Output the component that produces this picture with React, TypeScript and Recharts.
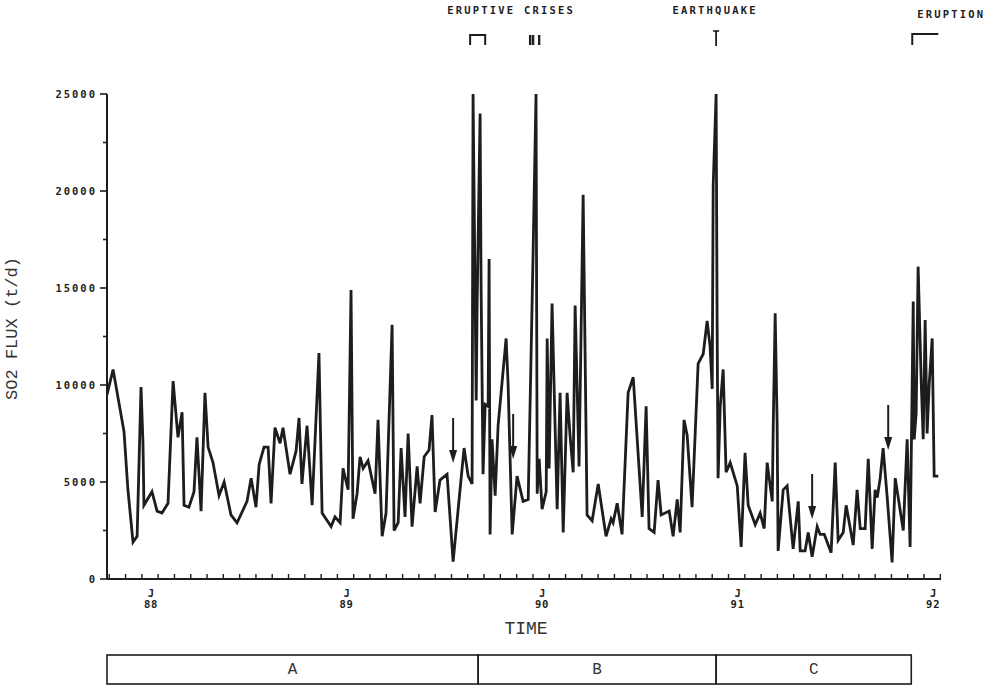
import React from "react";
import { ComposedChart, Line, XAxis, YAxis, ReferenceArea, ReferenceDot, Label } from "recharts";

// decimal year of each survey, and the SO2 flux measured then (t/d)
const dates = [
  1987.78, 1987.811, 1987.867, 1987.887, 1987.913, 1987.934, 1987.954, 1987.964, 1987.969,
  1988.01, 1988.036, 1988.061, 1988.092, 1988.118, 1988.143, 1988.164, 1988.174, 1988.199,
  1988.225, 1988.24, 1988.261, 1988.281, 1988.297, 1988.322, 1988.353, 1988.379, 1988.414,
  1988.445, 1988.496, 1988.517, 1988.542, 1988.558, 1988.583, 1988.604, 1988.619, 1988.639,
  1988.665, 1988.68, 1988.716, 1988.747, 1988.762, 1988.777, 1988.803, 1988.829, 1988.864,
  1988.88, 1988.926, 1988.946, 1988.972, 1988.987, 1989.013, 1989.028, 1989.038, 1989.059,
  1989.074, 1989.09, 1989.115, 1989.151, 1989.166, 1989.187, 1989.207, 1989.238, 1989.248,
  1989.269, 1989.284, 1989.304, 1989.32, 1989.34, 1989.366, 1989.381, 1989.402, 1989.427,
  1989.442, 1989.458, 1989.483, 1989.519, 1989.55, 1989.606, 1989.627, 1989.647, 1989.652,
  1989.668, 1989.673, 1989.688, 1989.693, 1989.703, 1989.714, 1989.729, 1989.734, 1989.739,
  1989.749, 1989.765, 1989.78, 1989.821, 1989.831, 1989.852, 1989.877, 1989.908, 1989.934,
  1989.959, 1989.974, 1989.98, 1989.99, 1990.005, 1990.026, 1990.031, 1990.041, 1990.056,
  1990.082, 1990.097, 1990.113, 1990.133, 1990.148, 1990.164, 1990.174, 1990.194, 1990.215,
  1990.235, 1990.261, 1990.292, 1990.332, 1990.358, 1990.368, 1990.389, 1990.414, 1990.445,
  1990.471, 1990.517, 1990.537, 1990.552, 1990.578, 1990.598, 1990.614, 1990.655, 1990.675,
  1990.696, 1990.711, 1990.731, 1990.747, 1990.772, 1990.803, 1990.829, 1990.849, 1990.864,
  1990.875, 1990.88, 1990.895, 1990.9, 1990.905, 1990.916, 1990.931, 1990.946, 1990.967,
  1991.003, 1991.023, 1991.043, 1991.059, 1991.095, 1991.12, 1991.141, 1991.156, 1991.182,
  1991.187, 1991.197, 1991.207, 1991.212, 1991.238, 1991.258, 1991.289, 1991.315, 1991.325,
  1991.35, 1991.366, 1991.386, 1991.412, 1991.427, 1991.448, 1991.483, 1991.504, 1991.519,
  1991.545, 1991.56, 1991.596, 1991.616, 1991.632, 1991.657, 1991.673, 1991.693, 1991.708,
  1991.719, 1991.734, 1991.749, 1991.77, 1991.795, 1991.811, 1991.852, 1991.872, 1991.887,
  1991.903, 1991.908, 1991.918, 1991.928, 1991.944, 1991.954, 1991.964, 1991.974, 1991.985,
  1992.0, 1992.01, 1992.031,
];

const flux = [
  9500, 10800, 7600, 4600, 1900, 2200, 9900, 7000, 3800,
  4500, 3500, 3400, 3900, 10200, 7300, 8600, 3800, 3700,
  4500, 7300, 3500, 9600, 6800, 6000, 4300, 5000, 3300,
  2900, 4000, 5200, 3700, 5900, 6800, 6800, 3900, 7800,
  7000, 7800, 5400, 6600, 8300, 4900, 7900, 3800, 11650,
  3400, 2700, 3200, 2900, 5700, 4600, 14900, 3100, 4400,
  6300, 5700, 6100, 4400, 8200, 2200, 3400, 13100, 2500,
  2900, 6750, 3200, 7500, 2700, 5800, 3900, 6300, 6650,
  8450, 3450, 5100, 5400, 900, 6750, 5300, 4900, 25000,
  9200, 14300, 24000, 15200, 5400, 9000, 8900, 16500, 2300,
  7200, 4300, 7900, 12400, 10100, 2300, 5300, 4000, 4100,
  16800, 25000, 4400, 6200, 3600, 4500, 12400, 5700, 14200,
  3600, 9600, 2400, 9600, 7400, 5500, 14100, 5800, 19800,
  3300, 3000, 4900, 2200, 3100, 2900, 3900, 2300, 9600,
  10400, 3200, 8900, 2600, 2400, 5100, 3300, 3500, 2200,
  4100, 2400, 8200, 7400, 3700, 11100, 11600, 13300, 12000,
  9800, 20300, 25000, 13300, 5200, 8900, 10800, 5500, 6000,
  4800, 1650, 6500, 3800, 2800, 3400, 2600, 6000, 4000,
  7800, 13700, 8000, 1450, 4600, 4800, 1550, 4000, 1450,
  1450, 2400, 1150, 2700, 2300, 2300, 1350, 6000, 2000,
  2400, 3800, 1750, 4600, 2600, 2600, 6200, 1550, 4600,
  4200, 5200, 6750, 4200, 850, 5200, 2500, 7200, 1650,
  14300, 7200, 8550, 16100, 10100, 7200, 13350, 7500, 10100,
  12400, 5300, 5300,
];

const fluxTicks = [0, 2500, 5000, 7500, 10000, 12500, 15000, 17500, 20000, 22500, 25000];
const yearLabels = ["88", "89", "90", "91", "92"];

// activity phases A, B, C and their limits
const phaseNames = ["A", "B", "C"];
const phaseBounds = [1987.78, 1989.678, 1990.895, 1991.893];

// events marked above the record
const crisisSpan = [1989.637, 1989.714];
const crisisMarks = [1989.944, 1989.959, 1989.99];
const quakeDate = 1990.895;
const eruptionSpan = [1991.898, 1992.031];

// arrows pointing at individual surveys
const arrowDates = [1989.55, 1989.857, 1991.386, 1991.775];
const arrowTips = [5980, 6190, 3090, 6650];

const series = dates.map((t, i) => ({ t, flux: flux[i] }));

const monthTicks: number[] = [];
for (let k = 9; k <= 60; k++) monthTicks.push(1987 + (k + 0.5) / 12);
const xTicks = [...monthTicks, 1988, 1989, 1990, 1991, 1992].sort((a, b) => a - b);

const ink = "#1d1d1d";
const plotFont = "'DejaVu Sans Mono', monospace";
const textFont = "'Liberation Mono', 'DejaVu Sans Mono', monospace";

const FluxTick = (props: any) => {
  const { x, y, payload } = props;
  const major = payload.value % 5000 === 0;
  return (
    <g>
      <line x1={x - (major ? 7 : 4)} x2={x} y1={y} y2={y} stroke={ink} strokeWidth={1.6} />
      {major && (
        <text x={x - 10} y={y} dy="0.36em" textAnchor="end" fontFamily={plotFont} fontWeight="bold"
          fontSize={10.5} letterSpacing={2} fill={ink}>
          {payload.value}
        </text>
      )}
    </g>
  );
};

const TimeTick = (props: any) => {
  const { x, y, payload } = props;
  const v = payload.value;
  if (Number.isInteger(v)) {
    return (
      <g fontFamily={plotFont} fontWeight="bold" fontSize={10.5} fill={ink} textAnchor="middle">
        <text x={x + 1} y={y + 18}>J</text>
        <text x={x + 1} y={y + 29} letterSpacing={0.8}>{yearLabels[v - 1988]}</text>
      </g>
    );
  }
  return <line x1={x} x2={x} y1={y} y2={y - 5} stroke={ink} strokeWidth={1.4} />;
};

const YTitle = (props: any) => {
  const vb = props.viewBox;
  const cx = 11;
  const cy = vb.y + vb.height / 2 - 8;
  return (
    <text x={cx} y={cy} transform={`rotate(-90 ${cx} ${cy})`} textAnchor="middle" dy="0.35em"
      fontFamily={textFont} fontSize={17} fill="#333">
      SO2 FLUX (t/d)
    </text>
  );
};

const XTitle = (props: any) => {
  const vb = props.viewBox;
  return (
    <text x={vb.x + vb.width / 2 + 2} y={vb.y + 55} textAnchor="middle" fontFamily={textFont}
      fontSize={18} fill="#333">
      TIME
    </text>
  );
};

const phaseBox = (name: string) => (p: any) => {
  const top = p.y + p.height + 76;
  return (
    <g>
      <rect x={p.x} y={top} width={p.width} height={29} fill="none" stroke={ink} strokeWidth={1.6} />
      <text x={p.x + p.width / 2} y={top + 19} textAnchor="middle" fontFamily={textFont} fontSize={16} fill="#333">
        {name}
      </text>
    </g>
  );
};

const eventText = (cx: number, y: number, label: string) => (
  <text x={cx} y={y} textAnchor="middle" fontFamily={plotFont} fontWeight="bold" fontSize={10.5}
    letterSpacing={2.2} fill={ink}>
    {label}
  </text>
);

const crisisBracket = (p: any) => {
  const top = p.y - 59;
  return (
    <g>
      <path d={`M${p.x},${top + 10} V${top} H${p.x + p.width} V${top + 10}`} fill="none" stroke={ink} strokeWidth={2} />
      {eventText(p.x + 41, 14, "ERUPTIVE CRISES")}
    </g>
  );
};

const crisisMark = (p: any) => (
  <line x1={p.cx} x2={p.cx} y1={p.cy - 59} y2={p.cy - 49} stroke={ink} strokeWidth={2.4} />
);

const quakeMark = (p: any) => (
  <g>
    <line x1={p.cx - 3} x2={p.cx + 3} y1={p.cy - 63} y2={p.cy - 63} stroke={ink} strokeWidth={1.6} />
    <line x1={p.cx} x2={p.cx} y1={p.cy - 63} y2={p.cy - 48} stroke={ink} strokeWidth={1.8} />
    {eventText(p.cx - 1, 14, "EARTHQUAKE")}
  </g>
);

const eruptionBracket = (p: any) => {
  const top = p.y - 60;
  return (
    <g>
      <path d={`M${p.x},${top + 11} V${top} H${p.x + p.width}`} fill="none" stroke={ink} strokeWidth={2} />
      {eventText(p.x + 39, 18, "ERUPTION")}
    </g>
  );
};

const arrowShape = (p: any) => (
  <g>
    <line x1={p.cx} x2={p.cx} y1={p.cy - 45} y2={p.cy - 10} stroke={ink} strokeWidth={2} />
    <path d={`M${p.cx - 4},${p.cy - 13} L${p.cx + 4},${p.cy - 13} L${p.cx},${p.cy} Z`} fill={ink} />
  </g>
);

export default function App() {
  return (
    <div style={{ position: "absolute", left: 0, top: 0, width: 992, height: 699, background: "#fff" }}>
      <ComposedChart width={992} height={699} margin={{ top: 94, right: 51, bottom: 90, left: 7 }}>
        <XAxis dataKey="t" type="number" domain={[1987.78, 1992.045]} allowDataOverflow ticks={xTicks}
          interval={0} tickSize={0} tickMargin={0} tickLine={false} tick={<TimeTick />} height={30}
          axisLine={{ stroke: ink, strokeWidth: 2 }}>
          <Label content={<XTitle />} />
        </XAxis>
        <YAxis type="number" domain={[0, 25000]} allowDataOverflow ticks={fluxTicks} interval={0}
          width={100} tickSize={0} tickMargin={0} tickLine={false} tick={<FluxTick />}
          axisLine={{ stroke: ink, strokeWidth: 2 }}>
          <Label content={<YTitle />} />
        </YAxis>

        {phaseNames.map((name, i) => (
          <ReferenceArea key={name} x1={phaseBounds[i]} x2={phaseBounds[i + 1]} ifOverflow="visible"
            shape={phaseBox(name)} />
        ))}
        <ReferenceArea x1={crisisSpan[0]} x2={crisisSpan[1]} ifOverflow="visible" shape={crisisBracket} />
        {crisisMarks.map((d) => (
          <ReferenceDot key={d} x={d} y={25000} ifOverflow="visible" shape={crisisMark} />
        ))}
        <ReferenceDot x={quakeDate} y={25000} ifOverflow="visible" shape={quakeMark} />
        <ReferenceArea x1={eruptionSpan[0]} x2={eruptionSpan[1]} ifOverflow="visible" shape={eruptionBracket} />

        <Line data={series} dataKey="flux" type="linear" stroke={ink} strokeWidth={2.8} dot={false}
          activeDot={false} isAnimationActive={false} />

        {arrowDates.map((d, i) => (
          <ReferenceDot key={d} x={d} y={arrowTips[i]} ifOverflow="visible" shape={arrowShape} />
        ))}
      </ComposedChart>
    </div>
  );
}
